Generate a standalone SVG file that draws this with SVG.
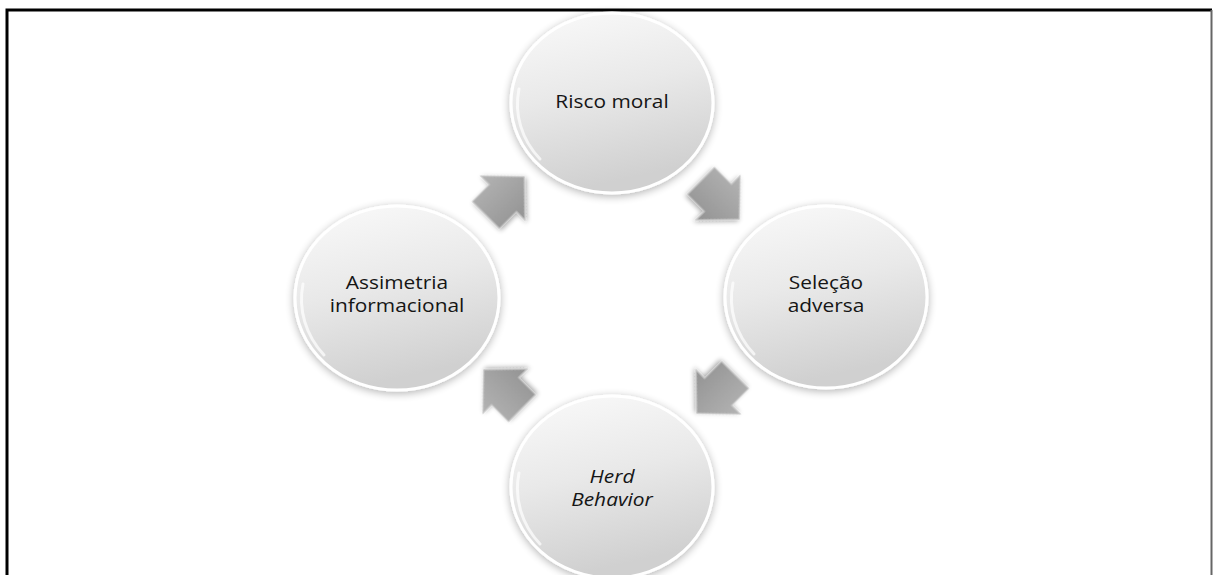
<svg xmlns="http://www.w3.org/2000/svg" width="1213" height="575" viewBox="0 0 1213 575">
<style>
.lbl{font-family:"Open Sans","Liberation Sans",sans-serif;font-size:18.5px;fill:#151515;text-anchor:middle}
.it{font-style:italic}
.disc{fill:url(#cg);stroke:#ffffff;stroke-width:3;filter:url(#sh)}
.hl{fill:none;stroke:#ffffff;stroke-width:3;stroke-linecap:round;opacity:0.7}
.arr{fill:url(#ag);stroke:#c4c4c4;stroke-width:1.2;filter:url(#ash)}
</style>
<defs>
<linearGradient id="cg" x1="0" y1="0" x2="0.25" y2="1">
<stop offset="0" stop-color="#fafafa"/>
<stop offset="0.5" stop-color="#e9e9e9"/>
<stop offset="1" stop-color="#d0d0d0"/>
</linearGradient>
<linearGradient id="ag" x1="0" y1="0" x2="0" y2="1">
<stop offset="0" stop-color="#b3b3b3"/>
<stop offset="1" stop-color="#939393"/>
</linearGradient>
<filter id="sh" x="-20%" y="-20%" width="140%" height="140%">
<feGaussianBlur in="SourceAlpha" stdDeviation="4"/>
<feOffset dy="2"/>
<feComponentTransfer><feFuncA type="linear" slope="0.3"/></feComponentTransfer>
<feMerge><feMergeNode/><feMergeNode in="SourceGraphic"/></feMerge>
</filter>
<filter id="ash" x="-30%" y="-30%" width="160%" height="160%">
<feGaussianBlur in="SourceAlpha" stdDeviation="2.5"/>
<feOffset dy="2"/>
<feComponentTransfer><feFuncA type="linear" slope="0.35"/></feComponentTransfer>
<feMerge><feMergeNode/><feMergeNode in="SourceGraphic"/></feMerge>
</filter>
<path id="arrow" d="M-24,-19 H0 V-31 L30,0 L0,31 V19 H-24 Z"/>
</defs>
<rect x="0" y="0" width="1213" height="575" fill="#ffffff"/>
<path d="M7,575 V10 H1212" fill="none" stroke="#000000" stroke-width="3"/>
<line x1="1211.5" y1="10" x2="1211.5" y2="575" stroke="#666666" stroke-width="2"/>

<g id="connectors">
<use href="#arrow" class="arr" transform="translate(503,198) rotate(-45)"/>
<use href="#arrow" class="arr" transform="translate(718,198) rotate(45)"/>
<use href="#arrow" class="arr" transform="translate(718,392) rotate(135)"/>
<use href="#arrow" class="arr" transform="translate(505,391) rotate(-135)"/>
</g>

<g id="node-risco" transform="translate(612,103)">
<ellipse class="disc" rx="101" ry="90"/>
<path class="hl" d="M-93,-14 A96,85 0 0,0 -72,56"/>
<text class="lbl" transform="translate(0,5) scale(1.13,1)">Risco moral</text>
</g>

<g id="node-selecao" transform="translate(826,297)">
<ellipse class="disc" rx="101" ry="91"/>
<path class="hl" d="M-93,-14 A96,86 0 0,0 -72,57"/>
<text class="lbl" transform="translate(0,-8) scale(1.13,1)">Seleção</text>
<text class="lbl" transform="translate(0,15) scale(1.13,1)">adversa</text>
</g>

<g id="node-herd" transform="translate(612,487)">
<ellipse class="disc" rx="101" ry="91"/>
<path class="hl" d="M-93,-14 A96,86 0 0,0 -72,57"/>
<text class="lbl it" transform="translate(0,-4) scale(1.13,1)">Herd</text>
<text class="lbl it" transform="translate(0,19) scale(1.13,1)">Behavior</text>
</g>

<g id="node-assimetria" transform="translate(397,298)">
<ellipse class="disc" rx="102" ry="92"/>
<path class="hl" d="M-94,-14 A97,87 0 0,0 -73,57"/>
<text class="lbl" transform="translate(0,-9) scale(1.13,1)">Assimetria</text>
<text class="lbl" transform="translate(0,14) scale(1.13,1)">informacional</text>
</g>
</svg>
